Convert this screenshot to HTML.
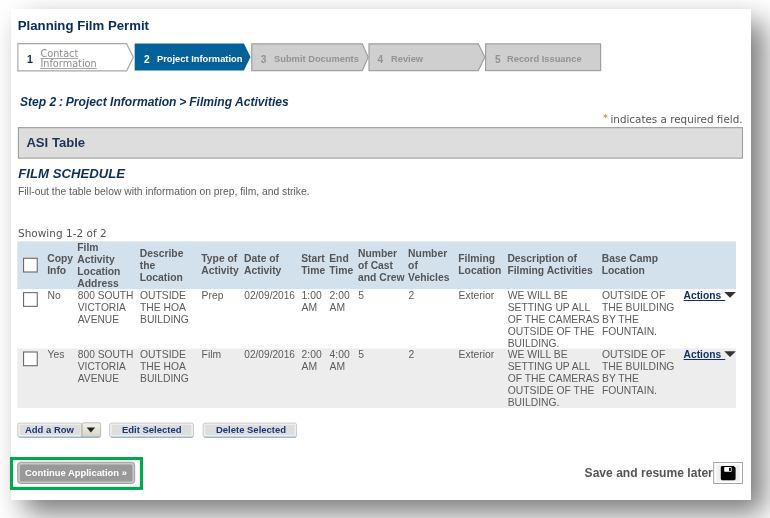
<!DOCTYPE html>
<html lang="en">
<head>
<meta charset="utf-8">
<title>Planning Film Permit</title>
<style>
html,body{margin:0;padding:0;background:#fff;}
body{width:770px;height:518px;overflow:hidden;position:relative;font-family:"Liberation Sans",Arial,sans-serif;color:#666;}
.abs{position:absolute;white-space:nowrap;}
#frame{position:absolute;left:11px;top:9px;width:740px;height:491px;background:#fff;box-shadow:12.6px 12.6px 26.6px rgba(0,0,0,.53);}
#shapes{position:absolute;left:0;top:0;}
#title{left:17.8px;top:17.8px;font-size:13.2px;line-height:16px;font-weight:bold;color:#0c2d62;}
.st{font-weight:bold;font-size:9.8px;line-height:12px;top:53.4px;margin-left:-.5px;transform:scaleX(.951);transform-origin:0 50%;}
.sn{font-weight:bold;font-size:10.2px;line-height:12px;top:54px;}
.g{color:#939393;}
#crumb{left:19.9px;top:94.9px;font-size:12.08px;line-height:14px;font-weight:bold;font-style:italic;color:#0d2f5e;}
#crumb i{font-style:inherit;margin:0 2.8px;}
#req{right:27.5px;top:112.5px;font-family:"DejaVu Sans",Verdana,sans-serif;font-size:10.36px;line-height:13px;color:#555;}
#req b{color:#e8843c;font-weight:bold;font-size:8.5px;position:relative;top:-1.2px;margin-right:.6px;}
#asit{left:26.4px;top:135px;font-size:13.12px;line-height:15px;font-weight:bold;color:#1c3557;}
#fs{left:18.3px;top:166px;font-size:13.16px;line-height:15px;font-weight:bold;font-style:italic;color:#0d2f5e;}
#fill{left:18px;top:186px;font-size:10.33px;line-height:12px;color:#5e5e5e;}
#show{left:18px;top:227px;font-family:"DejaVu Sans",Verdana,sans-serif;font-size:10.53px;line-height:13px;color:#555;}
.h{font-size:10.35px;line-height:11.85px;font-weight:bold;color:#555;margin-left:-.3px;white-space:nowrap;position:absolute;}
.d{font-size:10.35px;line-height:12.1px;color:#5c5c5c;white-space:nowrap;position:absolute;}
.act{position:absolute;font-size:10.25px;line-height:12.1px;font-weight:bold;color:#10306a;text-decoration:underline;text-underline-offset:.9px;text-decoration-thickness:1.1px;white-space:pre;word-spacing:1.2px;}
.bt{position:absolute;top:423.4px;font-size:9.85px;line-height:13px;font-weight:bold;color:#17367a;white-space:nowrap;transform:scaleX(.962);transform-origin:0 50%;}
#cont{left:25px;top:465.9px;color:#fff;font-size:9.9px;line-height:13px;font-weight:bold;transform:scaleX(.951);transform-origin:0 50%;}
#save{left:584.6px;top:466px;font-size:12.09px;line-height:15px;font-weight:bold;color:#555;}
</style>
</head>
<body>
<div id="frame"></div>

<svg id="shapes" width="770" height="518" viewBox="0 0 770 518">
  <!-- step bar -->
  <polygon points="17.9,43.7 126.6,43.7 133.3,57.3 126.6,70.8 17.9,70.8" fill="#fff" stroke="#a9a9a9" stroke-width="1.2"/>
  <polygon points="134.7,43.4 243.9,43.4 250.5,57 243.9,70.6 134.7,70.6" fill="#05619a"/>
  <polygon points="251.8,43.85 362.3,43.85 368.2,57.2 362.3,70.6 251.8,70.6" fill="#cfcfcf" stroke="#a0a0a0" stroke-width="1.2"/>
  <polygon points="369,43.85 478.3,43.85 484.8,57.2 478.3,70.6 369,70.6" fill="#cfcfcf" stroke="#a0a0a0" stroke-width="1.2"/>
  <rect x="485.6" y="43.85" width="115" height="26.75" fill="#cfcfcf" stroke="#a0a0a0" stroke-width="1.2"/>
  <!-- ASI box -->
  <rect x="18.4" y="127.65" width="724.1" height="30.5" fill="#dddddd" stroke="#9e9e9e" stroke-width="1.1"/>
  <!-- table -->
  <rect x="17.3" y="241.3" width="718.7" height="47.85" fill="#d3e1ed"/>
  <rect x="17.3" y="348.5" width="718.7" height="59.5" fill="#ededed"/>
  <g fill="#fff" stroke="#6a6a6a" stroke-width="1.1">
    <rect x="23.55" y="258.3" width="13.7" height="13.7"/>
    <rect x="23.55" y="292.65" width="13.7" height="13.7"/>
    <rect x="23.55" y="352.0" width="13.7" height="13.7"/>
  </g>
  <polygon points="724.2,291.9 735.9,291.9 730.05,297.7" fill="#333"/>
  <polygon points="724.2,351.3 735.9,351.3 730.05,357.1" fill="#333"/>
  <!-- small buttons -->
  <defs>
    <linearGradient id="gb" x1="0" y1="0" x2="0" y2="1"><stop offset="0" stop-color="#ebebeb"/><stop offset="1" stop-color="#dedede"/></linearGradient>
    <linearGradient id="gd" x1="0" y1="0" x2="0" y2="1"><stop offset="0" stop-color="#f3f2ea"/><stop offset="1" stop-color="#d6d4c6"/></linearGradient>
  </defs>
  <g>
    <rect x="18.3" y="423.6" width="82.2" height="14.4" rx="2" fill="#86b8de"/>
    <rect x="110.1" y="423.6" width="83.4" height="14.4" rx="2" fill="#86b8de"/>
    <rect x="203.6" y="423.6" width="93" height="14.4" rx="2" fill="#86b8de"/>
    <rect x="17.8" y="423.1" width="63.8" height="13.7" rx="2" fill="#efefef" stroke="#c6c6c6" stroke-width=".9"/>
    <rect x="109.6" y="423.1" width="83.9" height="13.7" rx="2" fill="#efefef" stroke="#c6c6c6" stroke-width=".9"/>
    <rect x="203.1" y="423.1" width="93.5" height="13.7" rx="2" fill="#efefef" stroke="#c6c6c6" stroke-width=".9"/>
    <rect x="20" y="424.9" width="60.6" height="10.1" fill="#dddddd"/>
    <rect x="111.8" y="424.9" width="79.5" height="10.1" fill="#dddddd"/>
    <rect x="205.3" y="424.9" width="89.1" height="10.1" fill="#dddddd"/>
    <rect x="82.1" y="422.8" width="18.6" height="14" rx="1.5" fill="url(#gd)" stroke="#b4b2a4" stroke-width=".8"/>
    <polygon points="86.7,427.4 95.1,427.4 90.9,432.6" fill="#222"/>
  </g>
  <!-- green highlight + continue button -->
  <rect x="11.5" y="458.55" width="130" height="29.85" fill="none" stroke="#00a84f" stroke-width="3.1"/>
  <rect x="17.7" y="462.3" width="117" height="21.2" rx="3" fill="#c8c8c8" stroke="#979797" stroke-width=".9"/>
  <rect x="19.9" y="464.4" width="112.6" height="17" rx="1.5" fill="#999"/>
  <!-- save icon -->
  <rect x="713.7" y="462.5" width="28.8" height="21" fill="#fff" stroke="#a4a4a4" stroke-width="1"/>
  <rect x="716.4" y="464.6" width="23.4" height="16.8" fill="#efefef"/>
  <path d="M722.3,465.9 H733.7 L735.6,467.8 V478.8 Q735.6,480.2 734.2,480.2 H722.3 Q720.8,480.2 720.8,478.8 V467.3 Q720.8,465.9 722.3,465.9 Z" fill="#000"/>
  <rect x="724.2" y="467" width="7.4" height="4.8" rx="0.8" fill="#fff"/>
  <rect x="729" y="467.8" width="1.9" height="3.1" fill="#000"/>
</svg>

<div id="title" class="abs">Planning Film Permit</div>

<div class="abs sn" style="left:27px;top:52.8px;color:#0d2f5e;font-size:10.6px;">1</div>
<div class="abs" style="left:40.4px;top:48.5px;font-family:'DejaVu Sans',Verdana,sans-serif;font-size:9.74px;line-height:10.1px;color:#8e8e8e;text-decoration:underline;text-decoration-color:#a8a8a8;text-decoration-thickness:.9px;white-space:normal;width:70px;">Contact Information</div>
<div class="abs sn" style="left:144px;color:#fff;">2</div>
<div class="abs st" style="left:157.5px;color:#fff;">Project Information</div>
<div class="abs sn g" style="left:260.8px;">3</div>
<div class="abs st g" style="left:274.8px;">Submit Documents</div>
<div class="abs sn g" style="left:377.6px;">4</div>
<div class="abs st g" style="left:391px;">Review</div>
<div class="abs sn g" style="left:495px;">5</div>
<div class="abs st g" style="left:507.6px;">Record Issuance</div>

<div id="crumb" class="abs">Step 2<i>:</i>Project Information<i>&gt;</i>Filming Activities</div>
<div id="req" class="abs"><b>*</b>&#8201;indicates a required field.</div>

<div id="asit" class="abs">ASI Table</div>
<div id="fs" class="abs">FILM SCHEDULE</div>
<div id="fill" class="abs">Fill-out the table below with information on prep, film, and strike.</div>
<div id="show" class="abs">Showing 1-2 of 2</div>

<!-- header -->
<div class="h" style="left:47.5px;top:253.45px;">Copy<br>Info</div>
<div class="h" style="left:77.6px;top:242.2px;">Film<br>Activity<br>Location<br>Address</div>
<div class="h" style="left:140px;top:248.3px;">Describe<br>the<br>Location</div>
<div class="h" style="left:201.6px;top:253.45px;">Type of<br>Activity</div>
<div class="h" style="left:244.3px;top:253.45px;">Date of<br>Activity</div>
<div class="h" style="left:301.5px;top:253.45px;">Start<br>Time</div>
<div class="h" style="left:329.5px;top:253.45px;">End<br>Time</div>
<div class="h" style="left:358.3px;top:248.3px;">Number<br>of Cast<br>and Crew</div>
<div class="h" style="left:408.4px;top:248.3px;">Number<br>of<br>Vehicles</div>
<div class="h" style="left:458.6px;top:253.45px;">Filming<br>Location</div>
<div class="h" style="left:507.7px;top:253.45px;">Description of<br>Filming Activities</div>
<div class="h" style="left:602px;top:253.45px;">Base Camp<br>Location</div>

<!-- row 1 -->
<div class="d" style="left:47.5px;top:289.5px;">No</div>
<div class="d" style="left:77.8px;top:289.5px;font-size:10.22px;">800 SOUTH<br>VICTORIA<br>AVENUE</div>
<div class="d" style="left:140px;top:289.5px;">OUTSIDE<br>THE HOA<br>BUILDING</div>
<div class="d" style="left:201.6px;top:289.5px;">Prep</div>
<div class="d" style="left:244.3px;top:289.5px;font-size:10.15px;">02/09/2016</div>
<div class="d" style="left:301.5px;top:289.5px;">1:00<br>AM</div>
<div class="d" style="left:329.5px;top:289.5px;">2:00<br>AM</div>
<div class="d" style="left:358.3px;top:289.5px;">5</div>
<div class="d" style="left:408.4px;top:289.5px;">2</div>
<div class="d" style="left:458.6px;top:289.5px;">Exterior</div>
<div class="d" style="left:507.7px;top:289.5px;">WE WILL BE<br>SETTING UP ALL<br>OF THE CAMERAS<br>OUTSIDE OF THE<br>BUILDING.</div>
<div class="d" style="left:602px;top:289.5px;">OUTSIDE OF<br>THE BUILDING<br>BY THE<br>FOUNTAIN.</div>
<div class="act" style="left:683.6px;top:289.5px;">Actions </div>

<!-- row 2 -->
<div class="d" style="left:47.5px;top:348.9px;">Yes</div>
<div class="d" style="left:77.8px;top:348.9px;font-size:10.22px;">800 SOUTH<br>VICTORIA<br>AVENUE</div>
<div class="d" style="left:140px;top:348.9px;">OUTSIDE<br>THE HOA<br>BUILDING</div>
<div class="d" style="left:201.6px;top:348.9px;">Film</div>
<div class="d" style="left:244.3px;top:348.9px;font-size:10.15px;">02/09/2016</div>
<div class="d" style="left:301.5px;top:348.9px;">2:00<br>AM</div>
<div class="d" style="left:329.5px;top:348.9px;">4:00<br>AM</div>
<div class="d" style="left:358.3px;top:348.9px;">5</div>
<div class="d" style="left:408.4px;top:348.9px;">2</div>
<div class="d" style="left:458.6px;top:348.9px;">Exterior</div>
<div class="d" style="left:507.7px;top:348.9px;">WE WILL BE<br>SETTING UP ALL<br>OF THE CAMERAS<br>OUTSIDE OF THE<br>BUILDING.</div>
<div class="d" style="left:602px;top:348.9px;">OUTSIDE OF<br>THE BUILDING<br>BY THE<br>FOUNTAIN.</div>
<div class="act" style="left:683.6px;top:348.9px;">Actions </div>

<!-- buttons -->
<div class="bt" style="left:25.1px;">Add a Row</div>
<div class="bt" style="left:122.1px;">Edit Selected</div>
<div class="bt" style="left:215.6px;">Delete Selected</div>

<div id="cont" class="abs">Continue Application »</div>
<div id="save" class="abs">Save and resume later</div>
</body>
</html>
